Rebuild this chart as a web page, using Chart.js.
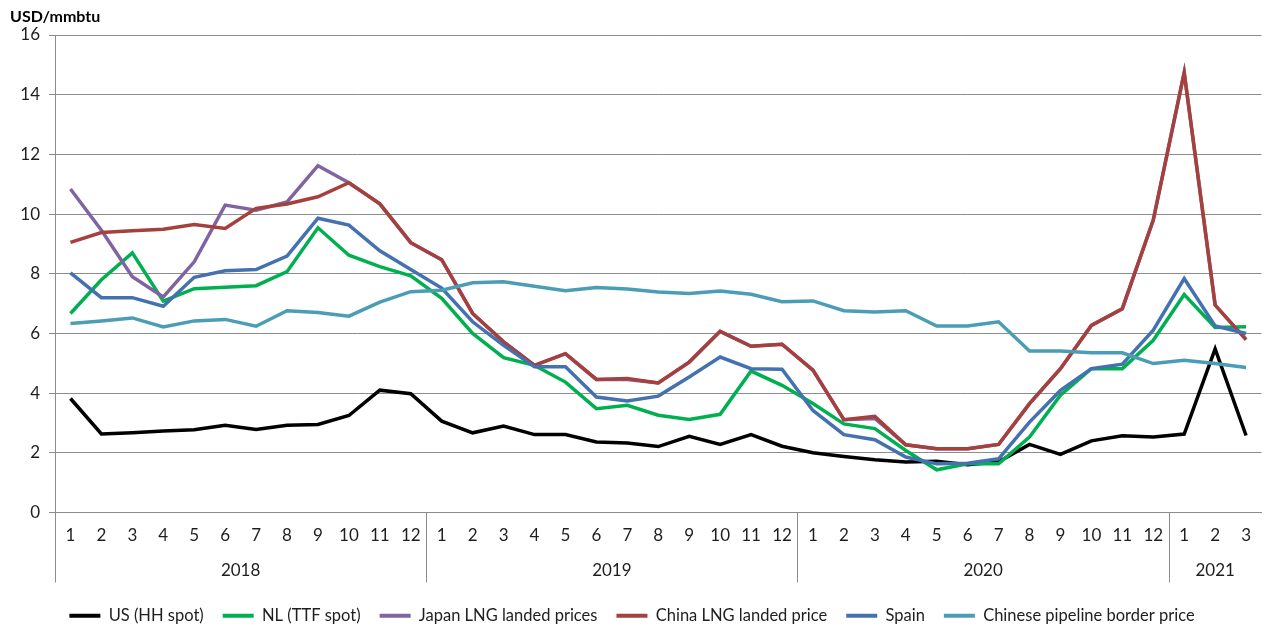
<!DOCTYPE html>
<html>
<head>
<meta charset="utf-8">
<title>Gas prices</title>
<script src="https://cdn.jsdelivr.net/npm/chart.js@4.4.1/dist/chart.umd.min.js"></script>
<style>
  html, body { margin: 0; padding: 0; background: #fff; }
  #wrap { width: 1264px; height: 626px; position: relative; }
</style>
</head>
<body>
<div id="wrap"><canvas id="priceChart"></canvas></div>
<script>
// categories: months grouped by year
const years = ['2018', '2019', '2020', '2021'];
const monthsPerYear = [12, 12, 12, 3];
const unitLabel = 'USD/mmbtu';

// USD/mmbtu, Jan 2018 .. Mar 2021
const usHH = [3.82, 2.63, 2.67, 2.73, 2.77, 2.92, 2.78, 2.92, 2.95, 3.25, 4.10, 3.98,
              3.06, 2.67, 2.90, 2.61, 2.61, 2.36, 2.33, 2.21, 2.55, 2.28, 2.61, 2.22,
              2.00, 1.88, 1.77, 1.69, 1.72, 1.60, 1.70, 2.28, 1.95, 2.40, 2.57, 2.53,
              2.63, 5.48, 2.58];
const nlTTF = [6.67, 7.80, 8.70, 7.08, 7.50, 7.55, 7.60, 8.07, 9.54, 8.62, 8.24, 7.93,
               7.18, 6.00, 5.19, 4.93, 4.37, 3.48, 3.59, 3.26, 3.12, 3.29, 4.74, 4.26,
               3.65, 2.97, 2.81, 2.08, 1.43, 1.63, 1.63, 2.53, 3.93, 4.82, 4.82, 5.77,
               7.30, 6.20, 6.22];
const japanLNG = [10.84, 9.46, 7.90, 7.22, 8.40, 10.30, 10.13, 10.41, 11.62, 11.05, 10.34, 9.04,
                  8.47, 6.67, 5.72, 4.93, 5.32, 4.46, 4.46, 4.34, 5.04, 6.07, 5.57, 5.64,
                  4.77, 3.11, 3.15, 2.27, 2.14, 2.14, 2.28, 3.65, 4.82, 6.27, 6.83, 9.80,
                  14.74, 6.95, 5.79];
const chinaLNG = [9.05, 9.38, 9.44, 9.49, 9.65, 9.52, 10.19, 10.34, 10.58, 11.05, 10.34, 9.04,
                  8.47, 6.67, 5.72, 4.93, 5.32, 4.46, 4.49, 4.34, 5.04, 6.07, 5.57, 5.64,
                  4.77, 3.11, 3.22, 2.27, 2.14, 2.14, 2.28, 3.65, 4.82, 6.27, 6.83, 9.80,
                  14.74, 6.95, 5.79];
const spain = [8.03, 7.20, 7.20, 6.91, 7.88, 8.10, 8.14, 8.59, 9.86, 9.63, 8.77, 8.14,
               7.52, 6.39, 5.60, 4.88, 4.88, 3.87, 3.74, 3.90, 4.54, 5.21, 4.82, 4.80,
               3.42, 2.61, 2.44, 1.86, 1.63, 1.65, 1.80, 3.03, 4.09, 4.82, 4.97, 6.11,
               7.84, 6.25, 6.00];
const chinaPipeline = [6.33, 6.42, 6.52, 6.22, 6.42, 6.47, 6.24, 6.76, 6.70, 6.58, 7.05, 7.40,
                       7.45, 7.70, 7.73, 7.58, 7.43, 7.54, 7.49, 7.39, 7.34, 7.42, 7.31, 7.06,
                       7.09, 6.76, 6.72, 6.76, 6.25, 6.25, 6.39, 5.41, 5.41, 5.35, 5.35, 4.99,
                       5.10, 4.99, 4.86];

const monthLabels = [];
monthsPerYear.forEach(n => {
    for (let m = 1; m <= n; m++) monthLabels.push(String(m));
});

const FONT = 'Lato, "Liberation Sans", sans-serif';
const TEXT = '#1e1e1e';
const AXIS = '#8c8c8c';

// year row under the month labels, with separators between years
const yearAxisPlugin = {
    id: 'yearAxis',
    afterDraw(chart) {
        const { ctx, chartArea } = chart;
        const x = chart.scales.x;
        const top = chartArea.bottom;
        ctx.save();
        ctx.strokeStyle = AXIS;
        ctx.lineWidth = 1;
        ctx.fillStyle = TEXT;
        ctx.font = '17px ' + FONT;
        ctx.textAlign = 'center';
        ctx.textBaseline = 'middle';
        let start = 0;
        years.forEach((yr, i) => {
            const end = start + monthsPerYear[i] - 1;
            const sep = Math.round(x.getPixelForValue(start - 0.5)) + 0.5;
            ctx.beginPath();
            ctx.moveTo(sep, top);
            ctx.lineTo(sep, top + 70);
            ctx.stroke();
            ctx.fillText(yr, x.getPixelForValue((start + end) / 2), top + 58);
            start = end + 1;
        });
        // unit label top-left
        ctx.textAlign = 'left';
        ctx.font = 'bold 16px ' + FONT;
        ctx.fillStyle = '#000';
        ctx.fillText(unitLabel, 10, 17);
        ctx.restore();
    }
};

function line(label, data, color, order) {
    return {
        label: label,
        data: data,
        borderColor: color,
        backgroundColor: color,
        borderWidth: 3.5,
        pointRadius: 0,
        pointHoverRadius: 0,
        tension: 0,
        order: order
    };
}

const ctx = document.getElementById('priceChart');
new Chart(ctx, {
    type: 'line',
    data: {
        labels: monthLabels,
        datasets: [
            line('US (HH spot)', usHH, '#000000', 6),
            line('NL (TTF spot)', nlTTF, '#00b050', 5),
            line('Japan LNG landed prices', japanLNG, '#8064a2', 4),
            line('China LNG landed price', chinaLNG, '#a5403c', 3),
            line('Spain', spain, '#4471b0', 2),
            line('Chinese pipeline border price', chinaPipeline, '#4a9db5', 1)
        ]
    },
    options: {
        responsive: true,
        maintainAspectRatio: false,
        animation: false,
        layout: {
            padding: { top: 35, right: 0, bottom: -8, left: 0 }
        },
        scales: {
            x: {
                type: 'category',
                offset: true,
                grid: { display: false, drawTicks: false },
                border: { display: true, color: AXIS, width: 1 },
                ticks: {
                    autoSkip: false,
                    maxRotation: 0,
                    padding: 13,
                    color: TEXT,
                    font: { family: FONT, size: 17 }
                },
                afterFit(scale) { scale.height = 76; }
            },
            y: {
                min: 0,
                max: 16,
                ticks: {
                    stepSize: 2,
                    padding: 9,
                    color: TEXT,
                    font: { family: FONT, size: 17 }
                },
                grid: { color: AXIS, lineWidth: 1, tickLength: 6 },
                border: { display: true, color: AXIS, width: 1 },
                afterFit(scale) { scale.width = 55; }
            }
        },
        plugins: {
            legend: {
                position: 'bottom',
                labels: {
                    boxWidth: 31,
                    boxHeight: 4,
                    padding: 19,
                    color: TEXT,
                    font: { family: FONT, size: 16.5 },
                    sort: (a, b) => a.datasetIndex - b.datasetIndex,
                    generateLabels(chart) {
                        return Chart.defaults.plugins.legend.labels.generateLabels(chart)
                            .map(item => Object.assign(item, { lineWidth: 0 }));
                    }
                }
            },
            tooltip: { enabled: false }
        }
    },
    plugins: [yearAxisPlugin]
});
</script>
</body>
</html>
